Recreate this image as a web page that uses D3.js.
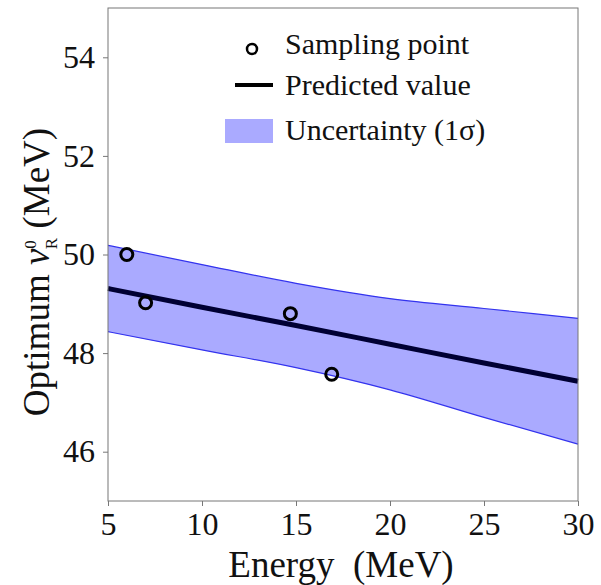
<!DOCTYPE html>
<html>
<head>
<meta charset="utf-8">
<script src="https://cdn.jsdelivr.net/npm/d3@7.9.0/dist/d3.min.js"></script>
<style>
  body { margin: 0; background: #fff; }
  svg text { font-family: "Liberation Serif", "Times New Roman", serif; fill: #111; }
</style>
</head>
<body>
<svg id="chart" width="601" height="585"></svg>
<script>
// data
const energy = [5, 10, 15, 20, 25, 30];
const predicted = [49.31, 48.93, 48.56, 48.18, 47.80, 47.43];
const sigma = [0.875, 0.865, 0.855, 0.925, 1.105, 1.275];

const sampleEnergy = [6.0, 7.0, 14.7, 16.9];
const sampleValue = [50.0, 49.02, 48.8, 47.57];

const xTicks = [5, 10, 15, 20, 25, 30];
const yTicks = [46, 48, 50, 52, 54];

const width = 601, height = 585;
const margin = { top: 8, right: 23, bottom: 84, left: 108 };

const svg = d3.select('#chart');

const x = d3.scaleLinear().domain([5, 30]).range([margin.left, width - margin.right]);
const y = d3.scaleLinear().domain([45, 55]).range([height - margin.bottom, margin.top]);

const band = energy.map((e, i) => ({ e, mid: predicted[i], lo: predicted[i] - sigma[i], hi: predicted[i] + sigma[i] }));

// uncertainty band
svg.append('path')
   .datum(band)
   .attr('fill', '#aaaaff')
   .attr('d', d3.area().x(d => x(d.e)).y0(d => y(d.lo)).y1(d => y(d.hi)).curve(d3.curveMonotoneX));

['lo', 'hi'].forEach(k => {
    svg.append('path')
       .datum(band)
       .attr('fill', 'none')
       .attr('stroke', '#3333ee')
       .attr('stroke-width', 1.2)
       .attr('d', d3.line().x(d => x(d.e)).y(d => y(d[k])).curve(d3.curveMonotoneX));
});

// predicted line
svg.append('path')
   .datum(band)
   .attr('fill', 'none')
   .attr('stroke', '#000033')
   .attr('stroke-width', 5)
   .attr('d', d3.line().x(d => x(d.e)).y(d => y(d.mid)).curve(d3.curveMonotoneX));

// sampling points
svg.selectAll('circle.sample')
   .data(sampleEnergy.map((e, i) => ({ e, v: sampleValue[i] })))
   .join('circle')
   .attr('class', 'sample')
   .attr('cx', d => x(d.e))
   .attr('cy', d => y(d.v))
   .attr('r', 6)
   .attr('fill', 'none')
   .attr('stroke', '#000')
   .attr('stroke-width', 3);

// frame
svg.append('rect')
   .attr('x', margin.left).attr('y', margin.top)
   .attr('width', width - margin.left - margin.right)
   .attr('height', height - margin.top - margin.bottom)
   .attr('fill', 'none')
   .attr('stroke', '#777')
   .attr('stroke-width', 1);

// axes
const xAxis = svg.append('g')
   .attr('transform', `translate(0,${height - margin.bottom})`)
   .call(d3.axisBottom(x).tickValues(xTicks).tickSize(5).tickPadding(6));
const yAxis = svg.append('g')
   .attr('transform', `translate(${margin.left},0)`)
   .call(d3.axisLeft(y).tickValues(yTicks).tickSize(5).tickPadding(8));

[xAxis, yAxis].forEach(g => {
    g.select('.domain').remove();
    g.selectAll('.tick line').attr('stroke', '#777');
    g.selectAll('.tick text')
     .style('font-family', '"Liberation Serif", serif')
     .style('font-size', '32px')
     .attr('fill', '#111');
});

// axis titles
svg.append('text')
   .attr('x', (margin.left + width - margin.right) / 2 - 2)
   .attr('y', 577)
   .attr('text-anchor', 'middle')
   .style('font-size', '37px')
   .style('white-space', 'pre')
   .text('Energy  (MeV)');

const yt = svg.append('text')
   .attr('transform', 'translate(49,272) rotate(-90)')
   .attr('text-anchor', 'middle')
   .style('font-size', '37px');
yt.append('tspan').text('Optimum ');
yt.append('tspan').style('font-style', 'italic').text('ν');
yt.append('tspan').attr('dy', -13).style('font-size', '17px').text('0');
yt.append('tspan').attr('dx', -9).attr('dy', 21).style('font-size', '17px').text('R');
yt.append('tspan').attr('dy', -8).text(' (MeV)');

// legend
const legend = svg.append('g').style('font-size', '30px');
legend.append('circle')
      .attr('cx', 252).attr('cy', 49).attr('r', 5)
      .attr('fill', 'none').attr('stroke', '#000').attr('stroke-width', 2.5);
legend.append('text').attr('x', 285).attr('y', 54).text('Sampling point');

legend.append('line')
      .attr('x1', 235).attr('x2', 273).attr('y1', 85).attr('y2', 85)
      .attr('stroke', '#000').attr('stroke-width', 4);
legend.append('text').attr('x', 285).attr('y', 95).text('Predicted value');

legend.append('rect')
      .attr('x', 225).attr('y', 119).attr('width', 48).attr('height', 24)
      .attr('fill', '#aaaaff');
legend.append('text').attr('x', 285).attr('y', 140).text('Uncertainty (1σ)');
</script>
</body>
</html>
